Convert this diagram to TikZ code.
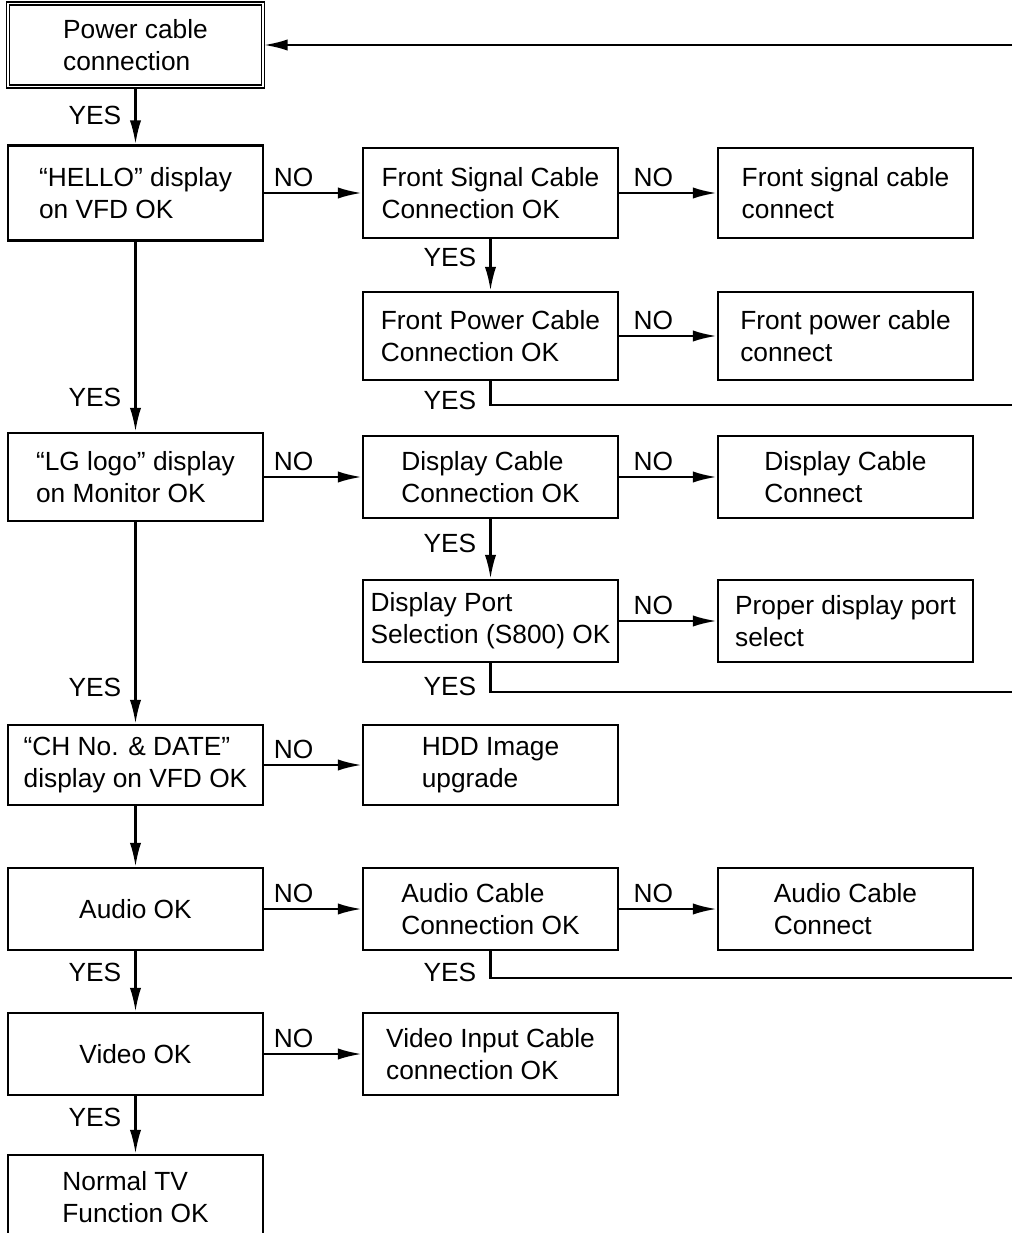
\documentclass[tikz,border=0pt]{standalone}
\usepackage{fontspec}
\setmainfont{Liberation Sans}
\usetikzlibrary{arrows.meta}

\begin{document}
\begin{tikzpicture}[x=0.025cm, y=-0.025cm, line width=1.7pt,
    >={Latex[length=17pt,width=8pt]},
    font=\fontsize{18.7}{22.8}\selectfont,
    nolbl/.style={above, pos=.3},
    nolblr/.style={above, pos=.35},
    yeslbl/.style={left, xshift=-6pt}]

        \useasboundingbox (0,0) rectangle (1012,1233);
        \clip (0,0) rectangle (1012,1233);

        \begin{scope}[every node/.style={rectangle, draw, align=left, inner xsep=2pt,
            minimum width=6.375cm, minimum height=2.05cm}]
          \node[double, double distance=1.2pt, line width=1pt, minimum height=2.075cm]
                (power)  at (135.5,45)   {Power cable\\connection};
          \node[minimum height=2.375cm] (hello)  at (135.5,193)  {“HELLO” display\\on VFD OK};
          \node[minimum height=2.25cm]  (fsig)   at (490.5,193)  {Front Signal Cable\\Connection OK};
          \node[minimum height=2.25cm]  (fsigc)  at (845.5,193)  {Front signal cable\\connect};
          \node[minimum height=2.2cm]   (fpow)   at (490.5,336)  {Front Power Cable\\Connection OK};
          \node[minimum height=2.2cm]   (fpowc)  at (845.5,336)  {Front power cable\\connect};
          \node[minimum height=2.2cm]   (lg)     at (135.5,477)  {“LG logo” display\\on Monitor OK};
          \node (dcab)   at (490.5,477)  {Display Cable\\Connection OK};
          \node (dcabc)  at (845.5,477)  {Display Cable\\Connect};
          \node (dport)  at (490.5,621)  {Display Port\\Selection (S800) OK};
          \node (dportc) at (845.5,621)  {Proper display port\\select};
          \node[minimum height=2cm] (ch)  at (135.5,765)  {“CH No. \& DATE”\\display on VFD OK};
          \node[minimum height=2cm] (hdd) at (490.5,765)  {HDD Image\\upgrade};
          \node (audio)  at (135.5,909)  {Audio OK};
          \node (acab)   at (490.5,909)  {Audio Cable\\Connection OK};
          \node (acabc)  at (845.5,909)  {Audio Cable\\Connect};
          \node (video)  at (135.5,1054) {Video OK};
          \node (vin)    at (490.5,1054) {Video Input Cable\\connection OK};
          \node[minimum height=2.1cm] (normal) at (135.5,1197) {Normal TV\\Function OK};
        \end{scope}

        % off-page ends on the right
        \coordinate (in0)  at (1012,45);
        \coordinate (ret1) at (1012,405);
        \coordinate (ret2) at (1012,692);
        \coordinate (ret3) at (1012,978);

        \begin{scope}[every edge/.style={draw,->}]
          \path (in0)   edge (power);
          \path (power) edge node[yeslbl, pos=.5]  {YES} (hello);
          \path (hello) edge node[nolbl] {NO} (fsig);
          \path (fsig)  edge node[nolblr] {NO} (fsigc);
          \path (fsig)  edge node[yeslbl, pos=.35] {YES} (fpow);
          \path (fpow)  edge node[nolblr] {NO} (fpowc);
          \path (hello) edge node[yeslbl, pos=.82] {YES} (lg);
          \path (lg)    edge node[nolbl] {NO} (dcab);
          \path (dcab)  edge node[nolblr] {NO} (dcabc);
          \path (dcab)  edge node[yeslbl, pos=.4]  {YES} (dport);
          \path (dport) edge node[nolblr] {NO} (dportc);
          \path (lg)    edge node[yeslbl, pos=.82] {YES} (ch);
          \path (ch)    edge node[nolbl] {NO} (hdd);
          \path (ch)    edge (audio);
          \path (audio) edge node[nolbl] {NO} (acab);
          \path (acab)  edge node[nolblr] {NO} (acabc);
          \path (audio) edge node[yeslbl, pos=.35] {YES} (video);
          \path (video) edge node[nolbl] {NO} (vin);
          \path (video) edge node[yeslbl, pos=.37] {YES} (normal);
        \end{scope}

        \draw (fpow.south)  |- node[yeslbl, pos=.4] {YES} (ret1);
        \draw (dport.south) |- node[yeslbl, pos=.4] {YES} (ret2);
        \draw (acab.south)  |- node[yeslbl, pos=.4] {YES} (ret3);

      \end{tikzpicture}
\end{document}
